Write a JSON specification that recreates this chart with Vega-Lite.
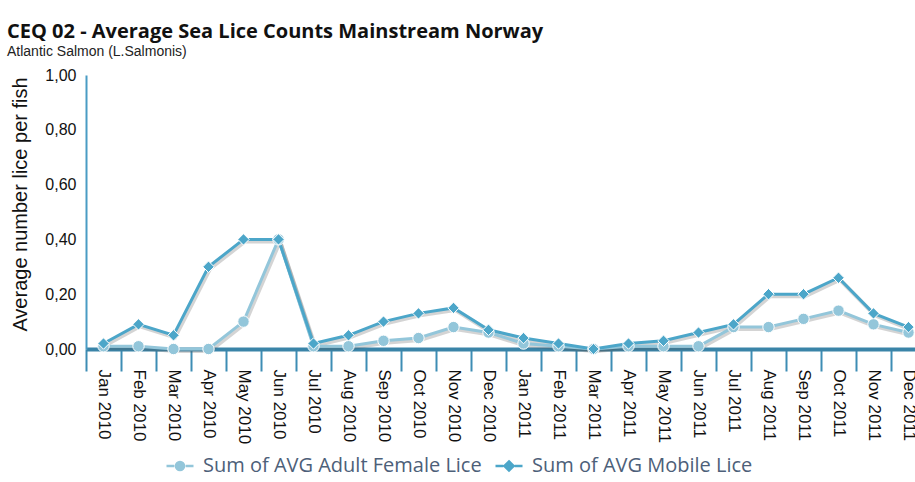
{
  "$schema": "https://vega.github.io/schema/vega-lite/v6.json",
  "width": 829,
  "height": 274,
  "autosize": {"type": "none"},
  "padding": {"left": 86, "top": 75, "right": 0, "bottom": 133},
  "background": "white",
  "title": {
    "text": "CEQ 02 - Average Sea Lice Counts Mainstream Norway",
    "subtitle": "Atlantic Salmon (L.Salmonis)",
    "anchor": "start",
    "frame": "group",
    "dx": -79,
    "font": "Open Sans",
    "fontWeight": "bold",
    "fontSize": 20,
    "color": "#111111",
    "subtitleFont": "Liberation Sans",
    "subtitleFontSize": 14,
    "subtitleColor": "#222222",
    "subtitlePadding": 3,
    "offset": 8
  },
  "config": {
    "view": {"stroke": null},
    "locale": {"number": {"decimal": ",", "thousands": ".", "grouping": [3], "currency": ["", " €"]}}
  },
  "data": {
    "values": [
      {"month": "Jan 2010", "series": "Sum of AVG Adult Female Lice", "value": 0.01},
      {"month": "Feb 2010", "series": "Sum of AVG Adult Female Lice", "value": 0.01},
      {"month": "Mar 2010", "series": "Sum of AVG Adult Female Lice", "value": 0.00},
      {"month": "Apr 2010", "series": "Sum of AVG Adult Female Lice", "value": 0.00},
      {"month": "May 2010", "series": "Sum of AVG Adult Female Lice", "value": 0.10},
      {"month": "Jun 2010", "series": "Sum of AVG Adult Female Lice", "value": 0.40},
      {"month": "Jul 2010", "series": "Sum of AVG Adult Female Lice", "value": 0.01},
      {"month": "Aug 2010", "series": "Sum of AVG Adult Female Lice", "value": 0.01},
      {"month": "Sep 2010", "series": "Sum of AVG Adult Female Lice", "value": 0.03},
      {"month": "Oct 2010", "series": "Sum of AVG Adult Female Lice", "value": 0.04},
      {"month": "Nov 2010", "series": "Sum of AVG Adult Female Lice", "value": 0.08},
      {"month": "Dec 2010", "series": "Sum of AVG Adult Female Lice", "value": 0.06},
      {"month": "Jan 2011", "series": "Sum of AVG Adult Female Lice", "value": 0.02},
      {"month": "Feb 2011", "series": "Sum of AVG Adult Female Lice", "value": 0.01},
      {"month": "Mar 2011", "series": "Sum of AVG Adult Female Lice", "value": 0.00},
      {"month": "Apr 2011", "series": "Sum of AVG Adult Female Lice", "value": 0.01},
      {"month": "May 2011", "series": "Sum of AVG Adult Female Lice", "value": 0.01},
      {"month": "Jun 2011", "series": "Sum of AVG Adult Female Lice", "value": 0.01},
      {"month": "Jul 2011", "series": "Sum of AVG Adult Female Lice", "value": 0.08},
      {"month": "Aug 2011", "series": "Sum of AVG Adult Female Lice", "value": 0.08},
      {"month": "Sep 2011", "series": "Sum of AVG Adult Female Lice", "value": 0.11},
      {"month": "Oct 2011", "series": "Sum of AVG Adult Female Lice", "value": 0.14},
      {"month": "Nov 2011", "series": "Sum of AVG Adult Female Lice", "value": 0.09},
      {"month": "Dec 2011", "series": "Sum of AVG Adult Female Lice", "value": 0.06},
      {"month": "Jan 2010", "series": "Sum of AVG Mobile Lice", "value": 0.02},
      {"month": "Feb 2010", "series": "Sum of AVG Mobile Lice", "value": 0.09},
      {"month": "Mar 2010", "series": "Sum of AVG Mobile Lice", "value": 0.05},
      {"month": "Apr 2010", "series": "Sum of AVG Mobile Lice", "value": 0.30},
      {"month": "May 2010", "series": "Sum of AVG Mobile Lice", "value": 0.40},
      {"month": "Jun 2010", "series": "Sum of AVG Mobile Lice", "value": 0.40},
      {"month": "Jul 2010", "series": "Sum of AVG Mobile Lice", "value": 0.02},
      {"month": "Aug 2010", "series": "Sum of AVG Mobile Lice", "value": 0.05},
      {"month": "Sep 2010", "series": "Sum of AVG Mobile Lice", "value": 0.10},
      {"month": "Oct 2010", "series": "Sum of AVG Mobile Lice", "value": 0.13},
      {"month": "Nov 2010", "series": "Sum of AVG Mobile Lice", "value": 0.15},
      {"month": "Dec 2010", "series": "Sum of AVG Mobile Lice", "value": 0.07},
      {"month": "Jan 2011", "series": "Sum of AVG Mobile Lice", "value": 0.04},
      {"month": "Feb 2011", "series": "Sum of AVG Mobile Lice", "value": 0.02},
      {"month": "Mar 2011", "series": "Sum of AVG Mobile Lice", "value": 0.00},
      {"month": "Apr 2011", "series": "Sum of AVG Mobile Lice", "value": 0.02},
      {"month": "May 2011", "series": "Sum of AVG Mobile Lice", "value": 0.03},
      {"month": "Jun 2011", "series": "Sum of AVG Mobile Lice", "value": 0.06},
      {"month": "Jul 2011", "series": "Sum of AVG Mobile Lice", "value": 0.09},
      {"month": "Aug 2011", "series": "Sum of AVG Mobile Lice", "value": 0.20},
      {"month": "Sep 2011", "series": "Sum of AVG Mobile Lice", "value": 0.20},
      {"month": "Oct 2011", "series": "Sum of AVG Mobile Lice", "value": 0.26},
      {"month": "Nov 2011", "series": "Sum of AVG Mobile Lice", "value": 0.13},
      {"month": "Dec 2011", "series": "Sum of AVG Mobile Lice", "value": 0.08}
    ]
  },
  "encoding": {
    "x": {
      "field": "month",
      "type": "ordinal",
      "sort": null,
      "scale": {"type": "band", "paddingInner": 0, "paddingOuter": 0, "range": [0, 840]},
      "axis": {
        "title": null,
        "labelAngle": 90,
        "labelFont": "Liberation Sans",
        "labelFontSize": 17,
        "labelColor": "#111111",
        "labelPadding": -2,
        "tickBand": "extent",
        "tickSize": 22,
        "tickWidth": 2,
        "tickColor": "#3d8db4",
        "domainColor": "#3a84a8",
        "domainWidth": 4,
        "grid": false
      }
    },
    "y": {
      "field": "value",
      "type": "quantitative",
      "scale": {"domain": [0, 1], "nice": false},
      "axis": {
        "title": "Average number lice per fish",
        "titleFont": "Liberation Sans",
        "titleFontSize": 20,
        "titleFontWeight": "normal",
        "titleColor": "#111111",
        "titlePadding": 14,
        "titleY": 129,
        "values": [0, 0.2, 0.4, 0.6, 0.8, 1],
        "format": ".2f",
        "labelFont": "Liberation Sans",
        "labelFontSize": 16,
        "labelColor": "#111111",
        "labelPadding": 10,
        "ticks": false,
        "grid": false,
        "domainColor": "#4a9cc4",
        "domainWidth": 2
      }
    }
  },
  "layer": [
    {
      "mark": {"type": "point", "filled": true, "opacity": 0, "size": 1},
      "encoding": {
        "color": {
          "field": "series",
          "type": "nominal",
          "scale": {"domain": ["Sum of AVG Adult Female Lice", "Sum of AVG Mobile Lice"], "range": ["#93c6da", "#4ca6c9"]},
          "legend": {
            "title": null,
            "orient": "none",
            "legendX": 79,
            "legendY": 376,
            "direction": "horizontal",
            "labelFont": "Open Sans",
            "labelFontSize": 20,
            "labelColor": "#4d6079",
            "symbolSize": 729,
            "symbolStrokeWidth": 2.5,
            "symbolOpacity": 1,
            "columnPadding": 8,
            "labelOffset": 8,
            "labelLimit": 400
          }
        },
        "stroke": {
          "field": "series",
          "type": "nominal",
          "scale": {"domain": ["Sum of AVG Adult Female Lice", "Sum of AVG Mobile Lice"], "range": ["#93c6da", "#4ca6c9"]}
        },
        "shape": {
          "field": "series",
          "type": "nominal",
          "scale": {
            "domain": ["Sum of AVG Adult Female Lice", "Sum of AVG Mobile Lice"],
            "range": [
              "M-1,0H-0.42M0.42,0H1M0.3,0A0.3,0.3,0,1,1,-0.3,0A0.3,0.3,0,1,1,0.3,0ZM0.2,0A0.2,0.2,0,1,1,-0.2,0A0.2,0.2,0,1,1,0.2,0ZM0.1,0A0.1,0.1,0,1,1,-0.1,0A0.1,0.1,0,1,1,0.1,0Z",
              "M-1,0H-0.42M0.42,0H1M0,-0.34L0.34,0L0,0.34L-0.34,0ZM0,-0.22L0.22,0L0,0.22L-0.22,0ZM0,-0.1L0.1,0L0,0.1L-0.1,0Z"
            ]
          }
        }
      }
    },
    {
      "mark": {"type": "line", "strokeWidth": 4, "color": "#555555", "opacity": 0.25, "xOffset": 1.5, "yOffset": 2},
      "encoding": {"detail": {"field": "series"}}
    },
    {
      "mark": {"type": "line", "strokeWidth": 3},
      "encoding": {"color": {"field": "series", "type": "nominal", "legend": null}}
    },
    {
      "transform": [{"filter": "datum.series == 'Sum of AVG Adult Female Lice'"}],
      "mark": {"type": "point", "shape": "circle", "filled": true, "opacity": 1, "size": 130, "stroke": "white", "strokeWidth": 1},
      "encoding": {"color": {"field": "series", "type": "nominal", "legend": null}}
    },
    {
      "transform": [{"filter": "datum.series == 'Sum of AVG Mobile Lice'"}],
      "mark": {"type": "point", "shape": "diamond", "filled": true, "opacity": 1, "size": 130, "stroke": "white", "strokeWidth": 1},
      "encoding": {"color": {"field": "series", "type": "nominal", "legend": null}}
    }
  ]
}
